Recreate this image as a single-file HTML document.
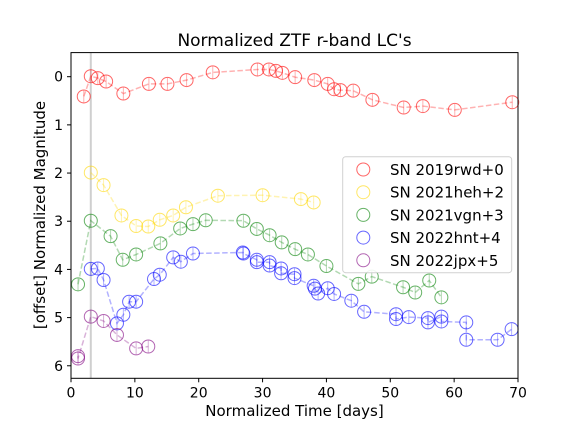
<!DOCTYPE html>
<html><head><meta charset="utf-8"><style>
body{margin:0;background:#fff;font-family:"DejaVu Sans","Liberation Sans",sans-serif;}
svg text{font-family:"DejaVu Sans","Liberation Sans",sans-serif;}
</style></head><body>
<svg id="chart" width="576" height="432" viewBox="0 0 576 432">
<rect width="576" height="432" fill="#fff"/>
<g id="plot"></g>
</svg>
<script>
const xTicks=[0,10,20,30,40,50,60,70];
const yTicks=[0,1,2,3,4,5,6];
const names=["SN 2019rwd+0","SN 2021heh+2","SN 2021vgn+3","SN 2022hnt+4","SN 2022jpx+5"];
const colors=["red","gold","green","blue","purple"];
const rwdT=[2.0,3.1,4.2,5.5,8.2,12.2,15.1,18.1,22.2,29.2,31.0,32.1,33.1,35.1,38.1,40.2,41.2,42.2,44.2,47.2,52.1,55.1,60.1,69.1];
const rwdM=[0.41,-0.01,0.03,0.10,0.35,0.15,0.15,0.07,-0.09,-0.15,-0.15,-0.12,-0.08,0.01,0.07,0.15,0.26,0.28,0.29,0.48,0.64,0.61,0.69,0.53];
const hehT=[3.1,5.1,7.9,10.2,12.1,13.9,16.0,18.0,23.0,30.0,36.0,38.0];
const hehM=[-0.01,0.25,0.88,1.10,1.11,0.97,0.88,0.71,0.47,0.46,0.54,0.61];
const vgnT=[1.1,3.1,6.2,8.1,10.2,14.0,17.1,19.1,21.1,27.0,29.1,31.1,33.0,35.1,37.1,40.0,45.0,47.1,52.0,53.9,56.1,58.0];
const vgnM=[1.31,-0.01,0.31,0.80,0.69,0.46,0.15,0.06,-0.02,-0.01,0.16,0.29,0.44,0.58,0.69,0.93,1.30,1.15,1.37,1.48,1.23,1.58];
const hntT=[3.1,4.2,5.1,7.2,8.2,9.1,10.2,13.0,13.9,16.0,17.2,19.1,26.9,27.0,29.1,29.1,31.1,31.1,32.9,32.9,35.0,35.0,38.0,38.2,38.7,40.2,41.2,43.9,45.9,50.9,50.9,52.9,55.9,55.9,58.0,58.0,61.9,61.9,66.8,69.0];
const hntM=[-0.01,-0.02,0.22,1.12,0.94,0.67,0.67,0.20,0.11,-0.25,-0.16,-0.33,-0.35,-0.33,-0.20,-0.15,-0.15,-0.08,-0.02,0.08,0.10,0.18,0.34,0.40,0.50,0.39,0.51,0.65,0.88,0.93,1.03,0.99,1.01,1.10,0.98,1.08,1.10,1.46,1.46,1.24];
const jpxT=[1.1,1.1,3.1,5.1,7.2,10.2,12.1];
const jpxM=[0.80,0.85,-0.02,0.07,0.36,0.64,0.60];
const offsets=[0,2,3,4,5];
const series=[[rwdT,rwdM],[hehT,hehM],[vgnT,vgnM],[hntT,hntM],[jpxT,jpxM]];
const L=71,R=518,T=52.6,B=378.3,X0=0,X1=70,Y0=-0.5,Y1=6.26;
const sx=v=>L+(v-X0)/(X1-X0)*(R-L);
const sy=v=>T+(v-Y0)/(Y1-Y0)*(B-T);
const NS="http://www.w3.org/2000/svg";
const g=document.getElementById('plot');
function mk(tag,attrs,parent){const e=document.createElementNS(NS,tag);for(const k in attrs)e.setAttribute(k,attrs[k]);(parent||g).appendChild(e);return e;}
let vl=mk('line',{x1:sx(3.1),x2:sx(3.1),y1:T,y2:B,stroke:'#bbb','stroke-width':2,opacity:0.7});


series.forEach((s,i)=>{
  const [ts,ms]=s;const off=offsets[i];
  const grp=mk('g',{});
  
  
  const pts=ts.map((t,j)=>sx(t).toFixed(1)+','+sy(ms[j]+off).toFixed(1)).join(' ');
  const pl=mk('polyline',{points:pts,fill:'none',stroke:colors[i],'stroke-width':1.5,'stroke-dasharray':'5.5,2.5',opacity:0.3},grp);
  
  
  ts.forEach((t,j)=>{
    const cx=sx(t),cy=sy(ms[j]+off);
    mk('line',{x1:cx,x2:cx,y1:cy-6,y2:cy+6,stroke:colors[i],'stroke-width':1,opacity:0.3},grp);
    const c=mk('circle',{cx:cx,cy:cy,r:6.5,fill:'none',stroke:colors[i],'stroke-width':1,opacity:0.6},grp);
    
    
  });
});
mk('rect',{x:L,y:T,width:R-L,height:B-T,fill:'none',stroke:'#000','stroke-width':1});
xTicks.forEach(v=>{
  mk('line',{x1:sx(v),x2:sx(v),y1:B,y2:B+4,stroke:'#000'});
  const t=mk('text',{x:sx(v),y:B+19,'text-anchor':'middle','font-size':14});
  t.textContent=v;
  
  
});
yTicks.forEach(v=>{
  mk('line',{x1:L-4,x2:L,y1:sy(v),y2:sy(v),stroke:'#000'});
  const t=mk('text',{x:L-8,y:sy(v)+5,'text-anchor':'end','font-size':14});
  t.textContent=v;
  
  
});
let tt=mk('text',{x:294.5,y:46,'text-anchor':'middle','font-size':17});
tt.textContent="Normalized ZTF r-band LC's";


let xl=mk('text',{x:294.5,y:416,'text-anchor':'middle','font-size':15});
xl.textContent="Normalized Time [days]";


let yl=mk('text',{x:0,y:0,'text-anchor':'middle','font-size':15,transform:'translate(45,215) rotate(-90)'});
yl.textContent="[offset] Normalized Magnitude";


const lg=mk('g',{});


mk('rect',{x:342.7,y:156.7,width:169,height:116,rx:3,fill:'#fff',stroke:'#ccc','stroke-width':1,opacity:0.9},lg);
names.forEach((n,i)=>{
  const y=169.5+i*22.7;
  const e=mk('g',{},lg);
  
  
  mk('circle',{cx:363.3,cy:y,r:6.5,fill:'none',stroke:colors[i],'stroke-width':1,opacity:0.6},e);
  const t=mk('text',{x:390,y:y+5.5,'font-size':15},e);
  t.textContent=n;
});
</script>
</body></html>
